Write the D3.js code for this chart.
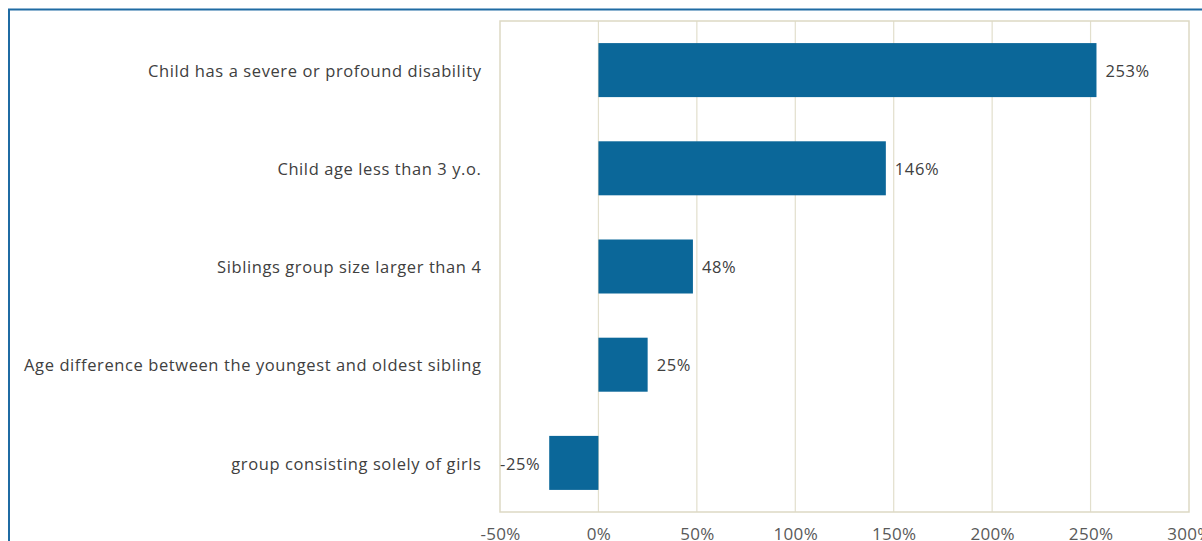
<!DOCTYPE html>
<html>
<head>
<meta charset="utf-8">
<script src="https://cdn.jsdelivr.net/npm/d3@7/dist/d3.min.js"></script>
<style>
  html, body { margin: 0; padding: 0; background: #ffffff; }
  svg { display: block; }
  text { font-family: "Century Gothic", "Open Sans", "DejaVu Sans", sans-serif; }
</style>
</head>
<body>
<svg id="chart" width="1202" height="541"></svg>
<script>
// Categories listed top to bottom
const categories = [
  "Child has a severe or profound disability",
  "Child age less than 3 y.o.",
  "Siblings group size larger than 4",
  "Age difference between the youngest and oldest sibling",
  "group consisting solely of girls"
];
// Percentage change for each category
const values = [253, 146, 48, 25, -25];
// Axis tick values (percent)
const tickValues = [-50, 0, 50, 100, 150, 200, 250, 300];

const svg = d3.select("#chart");
const plot = { left: 500, top: 21, right: 1189, bottom: 512 };

// outer frame
svg.append("rect")
  .attr("x", 9).attr("y", 9.5)
  .attr("width", 1300).attr("height", 700)
  .attr("fill", "none")
  .attr("stroke", "#1f6ba3")
  .attr("stroke-width", 2);

const x = d3.scaleLinear().domain([-50, 300]).range([plot.left, plot.right]);
const y = d3.scaleBand().domain(categories).range([plot.top, plot.bottom])
  .paddingInner(0.45).paddingOuter(0.225);

// vertical gridlines
svg.append("g")
  .selectAll("line")
  .data(tickValues.slice(1, -1))
  .join("line")
  .attr("x1", d => x(d)).attr("x2", d => x(d))
  .attr("y1", plot.top).attr("y2", plot.bottom)
  .attr("stroke", "#e2dfcc")
  .attr("stroke-width", 1.2);

// plot-area frame
svg.append("rect")
  .attr("x", plot.left).attr("y", plot.top)
  .attr("width", plot.right - plot.left).attr("height", plot.bottom - plot.top)
  .attr("fill", "none")
  .attr("stroke", "#ddd9c4")
  .attr("stroke-width", 1.5);

// bars
svg.append("g")
  .selectAll("rect")
  .data(values)
  .join("rect")
  .attr("x", d => x(Math.min(0, d)))
  .attr("width", d => Math.abs(x(d) - x(0)))
  .attr("y", (d, i) => y(categories[i]))
  .attr("height", y.bandwidth())
  .attr("fill", "#0b6799");

// value labels
svg.append("g")
  .selectAll("text")
  .data(values)
  .join("text")
  .attr("x", d => d >= 0 ? x(d) + 9 : x(d) - 9)
  .attr("y", (d, i) => y(categories[i]) + y.bandwidth() / 2)
  .attr("dy", "0.4em")
  .attr("text-anchor", d => d >= 0 ? "start" : "end")
  .attr("fill", "#404040")
  .attr("font-size", 16.5)
  .attr("letter-spacing", 0.6)
  .text(d => d + "%");

// category labels
svg.append("g")
  .selectAll("text")
  .data(categories)
  .join("text")
  .attr("x", 481.5)
  .attr("y", d => y(d) + y.bandwidth() / 2)
  .attr("dy", "0.4em")
  .attr("text-anchor", "end")
  .attr("fill", "#404040")
  .attr("font-size", 16.5)
  .attr("letter-spacing", 0.6)
  .text(d => d);

// x axis
const xAxis = d3.axisBottom(x)
  .tickValues(tickValues)
  .tickSize(0)
  .tickPadding(16)
  .tickFormat(d => d + "%");

const gx = svg.append("g")
  .attr("transform", `translate(0,${plot.bottom})`)
  .call(xAxis);
gx.select(".domain").remove();
gx.selectAll("text")
  .attr("fill", "#595959")
  .attr("font-size", 17)
  .attr("letter-spacing", 0.3)
  .style("font-family", "\"Century Gothic\", \"Open Sans\", \"DejaVu Sans\", sans-serif");
</script>
</body>
</html>
